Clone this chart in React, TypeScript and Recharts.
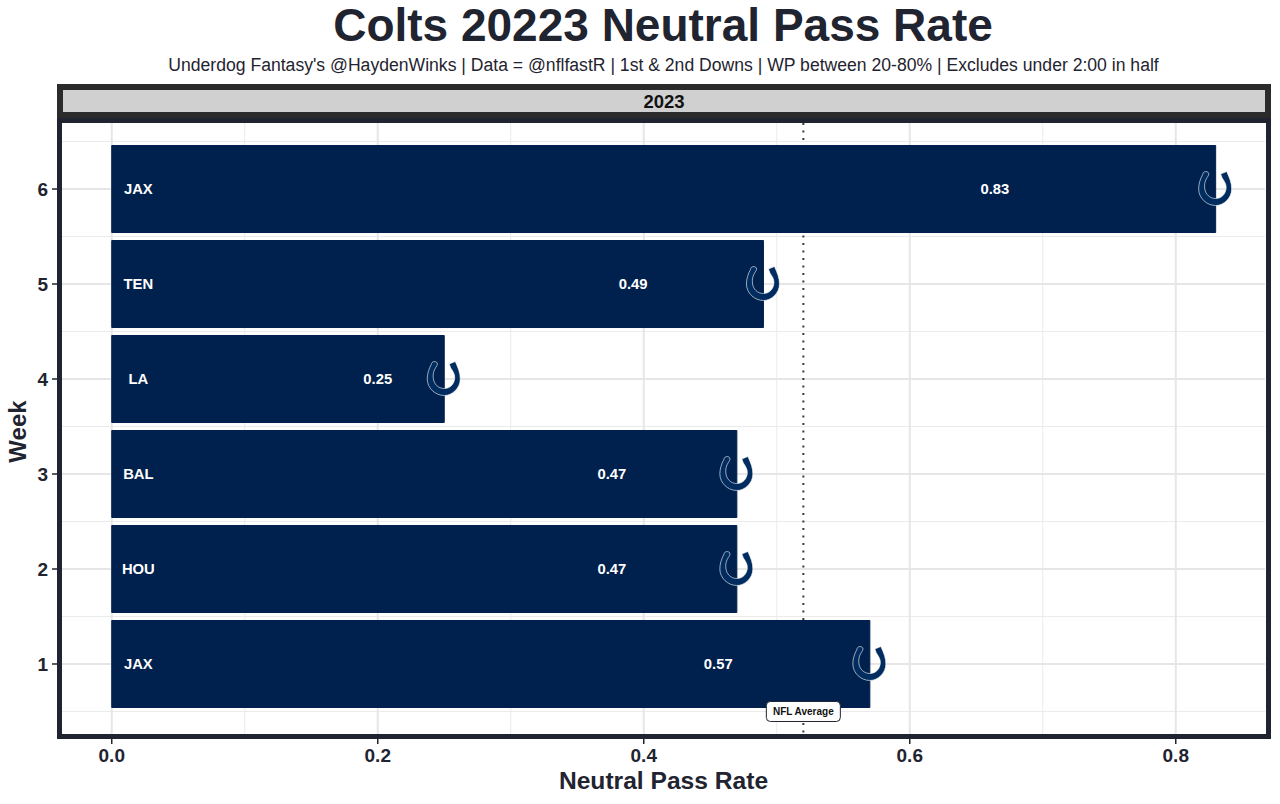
import React from "react";
import { ComposedChart, Bar, XAxis, YAxis, CartesianGrid, ReferenceDot } from "recharts";

const weeks = [1, 2, 3, 4, 5, 6];
const opponents = ["JAX", "HOU", "BAL", "LA", "TEN", "JAX"];
const passRates = [0.57, 0.47, 0.47, 0.25, 0.49, 0.83];
const xMajor = [0, 0.2, 0.4, 0.6, 0.8];
const xMinor = [0.1, 0.3, 0.5, 0.7];
const yMinor = [0.5, 1.5, 2.5, 3.5, 4.5, 5.5, 6.5];
const nflAverage = 0.52;
const facetLabel = "2023";

const data = weeks.map((week, i) => ({ week, opponent: opponents[i], rate: passRates[i] }));

const FONT = "'Liberation Sans', Arial, sans-serif";
const DARK = "#1f2430";
const NAVY = "#00204d";
const SHOE = "#002c5f";

const shoePath =
  "M-13 -14.5 C-13 -17.5 -8.5 -18.5 -7 -16 C-6.5 -14.5 -7.5 -13 -8.5 -11.5 C-10.5 -8.5 -11.5 -5 -11 -1 C-10.5 5 -6 9.5 0 9.5 C6 9.5 10 5 10.5 -1 C10.8 -5 8.5 -8 6.5 -11 L5 -15 L11 -17.5 C14 -11 16 -6 16 0 C16 9 8 16.5 0 16.5 C-9 16.5 -17 9 -17 0 C-17 -5 -15.5 -10 -13 -14.5 Z";

const whiteText = (value: string) => (p: any) => (
  <text x={p.cx} y={p.cy} dy="0.35em" textAnchor="middle" fill="#fff" fontFamily={FONT} fontWeight={700} fontSize={14.8}>
    {value}
  </text>
);
const shoe = (p: any) => (
  <path transform={`translate(${p.cx},${p.cy})`} d={shoePath} fill={SHOE} stroke="#fff" strokeWidth={0.6} />
);
const avgLabel = (p: any) => (
  <g>
    <rect x={p.cx - 37} y={p.cy - 10} width={74} height={20} rx={4} fill="#fff" stroke={DARK} strokeWidth={1} />
    <text x={p.cx} y={p.cy} dy="0.35em" textAnchor="middle" fill="#111" fontFamily={FONT} fontWeight={700} fontSize={10}>
      NFL Average
    </text>
  </g>
);

const abs = (s: React.CSSProperties): React.CSSProperties => ({ position: "absolute", boxSizing: "border-box", ...s });

export default function App() {
  return (
    <div style={abs({ left: 0, top: 0, width: 1280, height: 804, background: "#fff", fontFamily: FONT, color: DARK, overflow: "hidden" })}>
      <div style={abs({ left: 0, width: 1326, top: 0, textAlign: "center", fontWeight: 700, fontSize: 46, lineHeight: "50px" })}>
        Colts 20223 Neutral Pass Rate
      </div>
      <div style={abs({ left: 0, width: 1327, top: 55, textAlign: "center", fontSize: 17.6, lineHeight: "20px" })}>
        Underdog Fantasy's @HaydenWinks | Data = @nflfastR | 1st &amp; 2nd Downs | WP between 20-80% | Excludes under 2:00 in half
      </div>
      <div style={abs({ left: 0, top: 0 })}>
        <ComposedChart
          width={1280}
          height={804}
          data={data}
          layout="vertical"
          margin={{ left: 12, right: 15, top: 123, bottom: 20 }}
        >
          <CartesianGrid stroke="#ebebeb" strokeWidth={1} horizontalValues={yMinor} verticalValues={xMinor} />
          <CartesianGrid stroke="#e6e6e6" strokeWidth={2} horizontalValues={weeks} verticalValues={xMajor} />
          <CartesianGrid horizontal={false} verticalValues={[nflAverage]} stroke="#3a3a3a" strokeWidth={2} strokeDasharray="2 5.5" />
          <XAxis
            type="number"
            dataKey="rate"
            domain={[-0.0374, 0.8671]}
            ticks={xMajor}
            allowDataOverflow
            height={50}
            axisLine={false}
            tickSize={10}
            tickMargin={5}
            tickLine={{ stroke: DARK, strokeWidth: 1.5 }}
            tick={{ fill: DARK, fontFamily: FONT, fontWeight: 700, fontSize: 19 }}
            tickFormatter={(v: number) => v.toFixed(1)}
            label={{ value: "Neutral Pass Rate", position: "insideBottom", offset: -5, fill: DARK, fontFamily: FONT, fontWeight: 700, fontSize: 24.6 }}
          />
          <YAxis
            type="number"
            dataKey="week"
            reversed
            domain={[0.263, 6.695]}
            ticks={weeks}
            allowDataOverflow
            width={50}
            axisLine={false}
            tickSize={10}
            tickMargin={4}
            tickLine={{ stroke: DARK, strokeWidth: 1.5 }}
            tick={{ fill: DARK, fontFamily: FONT, fontWeight: 700, fontSize: 19 }}
            label={{ value: "Week", angle: -90, position: "insideLeft", offset: 0, textAnchor: "middle", dx: 5, dy: 3, fill: DARK, fontFamily: FONT, fontWeight: 700, fontSize: 24 }}
          />
          <Bar dataKey="rate" barSize={87} fill={NAVY} stroke={NAVY} strokeWidth={1} isAnimationActive={false} />
          {data.map((d) => (
            <ReferenceDot key={`o${d.week}`} x={0.02} y={d.week} r={1} shape={whiteText(d.opponent)} />
          ))}
          {data.map((d) => (
            <ReferenceDot key={`v${d.week}`} x={d.rate * 0.8} y={d.week} r={1} shape={whiteText(d.rate.toFixed(2))} />
          ))}
          {data.map((d) => (
            <ReferenceDot key={`s${d.week}`} x={d.rate} y={d.week} r={1} shape={shoe} />
          ))}
          <ReferenceDot x={nflAverage} y={0.5} r={1} shape={avgLabel} />
        </ComposedChart>
      </div>
      <div style={abs({ left: 57, top: 84, width: 1214, height: 34, border: "6px solid #2b2b2b", background: "#d0d0d0", textAlign: "center", fontWeight: 700, fontSize: 18.5, lineHeight: "24px", color: "#111" })}>
        {facetLabel}
      </div>
      <div style={abs({ left: 57, top: 118, width: 1214, height: 621, border: `5px solid ${DARK}`, pointerEvents: "none" })} />
    </div>
  );
}
